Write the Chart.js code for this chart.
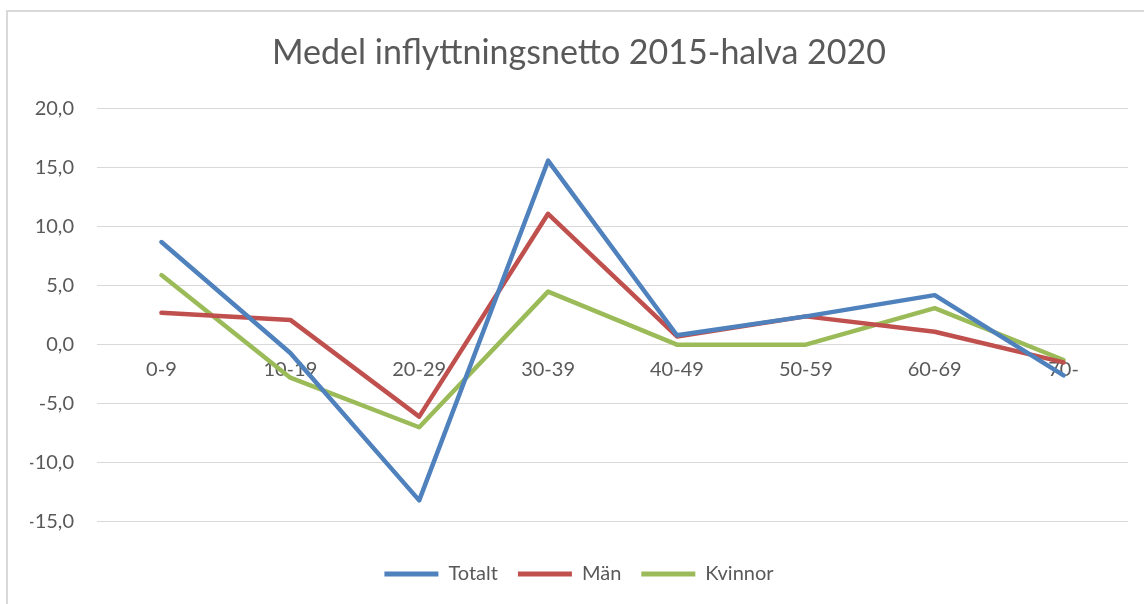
<!DOCTYPE html>
<html lang="sv">
<head>
<meta charset="utf-8">
<title>Medel inflyttningsnetto 2015-halva 2020</title>
<script src="https://cdn.jsdelivr.net/npm/chart.js@4/dist/chart.umd.min.js"></script>
<style>
    html, body { margin: 0; padding: 0; background: #fff; }
    #wrap { position: relative; width: 1144px; height: 604px; overflow: hidden; }
    #frame { position: absolute; left: 6px; top: 10px; width: 1200px; height: 700px;
             border-top: 2px solid #d9d9d9; border-left: 2px solid #d9d9d9; pointer-events: none; }
</style>
</head>
<body>
<div id="wrap">
    <canvas id="chart" width="1144" height="604"></canvas>
    <div id="frame"></div>
</div>
<script>
// åldersgrupper
const categories = ['0-9', '10-19', '20-29', '30-39', '40-49', '50-59', '60-69', '70-'];

// medelvärden per grupp
const totalt  = [8.7, -0.7, -13.2, 15.6, 0.8, 2.4, 4.2, -2.6];
const man     = [2.7, 2.1, -6.1, 11.1, 0.7, 2.4, 1.1, -1.5];
const kvinnor = [5.9, -2.8, -7.0, 4.5, 0.0, 0.0, 3.1, -1.3];

const yMin = -15;
const yMax = 20;
const yStep = 5;

const textColor = '#595959';
const fontFamily = 'Lato, "Open Sans", sans-serif';

function serie(label, values, color) {
    return {
        label: label,
        data: values,
        borderColor: color,
        backgroundColor: color,
        borderWidth: 4.5,
        borderJoinStyle: 'round',
        borderCapStyle: 'round',
        pointRadius: 0,
        pointHoverRadius: 0,
        tension: 0
    };
}

const ctx = document.getElementById('chart').getContext('2d');

const chart = new Chart(ctx, {
    type: 'line',
    data: {
        labels: categories,
        datasets: [
            serie('Totalt', totalt, '#4f81bd'),
            serie('Män', man, '#c0504d'),
            serie('Kvinnor', kvinnor, '#9bbb59')
        ]
    },
    options: {
        responsive: false,
        animation: false,
        layout: {
            padding: { left: 30, right: 16, top: 0, bottom: 10 }
        },
        plugins: {
            title: {
                display: true,
                text: 'Medel inflyttningsnetto 2015-halva 2020',
                color: textColor,
                font: { family: fontFamily, size: 34, weight: 'normal' },
                padding: { top: 33, bottom: 35 }
            },
            legend: {
                position: 'bottom',
                title: {
                    display: true,
                    text: '',
                    font: { size: 2 },
                    padding: { top: 20, bottom: 0 }
                },
                labels: {
                    color: textColor,
                    font: { family: fontFamily, size: 20 },
                    boxWidth: 54,
                    boxHeight: 5,
                    padding: 20,
                    generateLabels: function (c) {
                        return c.data.datasets.map(function (ds, i) {
                            return {
                                text: ds.label,
                                fillStyle: ds.borderColor,
                                strokeStyle: ds.borderColor,
                                lineWidth: 0,
                                fontColor: textColor,
                                datasetIndex: i
                            };
                        });
                    }
                }
            },
            tooltip: { enabled: false }
        },
        scales: {
            x: {
                position: { y: 0 },
                offset: true,
                grid: { display: false, drawTicks: false },
                border: { display: false },
                ticks: {
                    color: textColor,
                    font: { family: fontFamily, size: 20 },
                    padding: 13,
                    maxRotation: 0
                }
            },
            y: {
                min: yMin,
                max: yMax,
                afterFit: function (scale) { scale.width = 67; },
                grid: { color: '#d9d9d9', lineWidth: 1, drawTicks: false },
                border: { display: false },
                ticks: {
                    stepSize: yStep,
                    color: textColor,
                    font: { family: fontFamily, size: 20 },
                    padding: 23,
                    callback: function (v) { return v.toFixed(1).replace('.', ','); }
                }
            }
        }
    }
});
</script>
</body>
</html>
